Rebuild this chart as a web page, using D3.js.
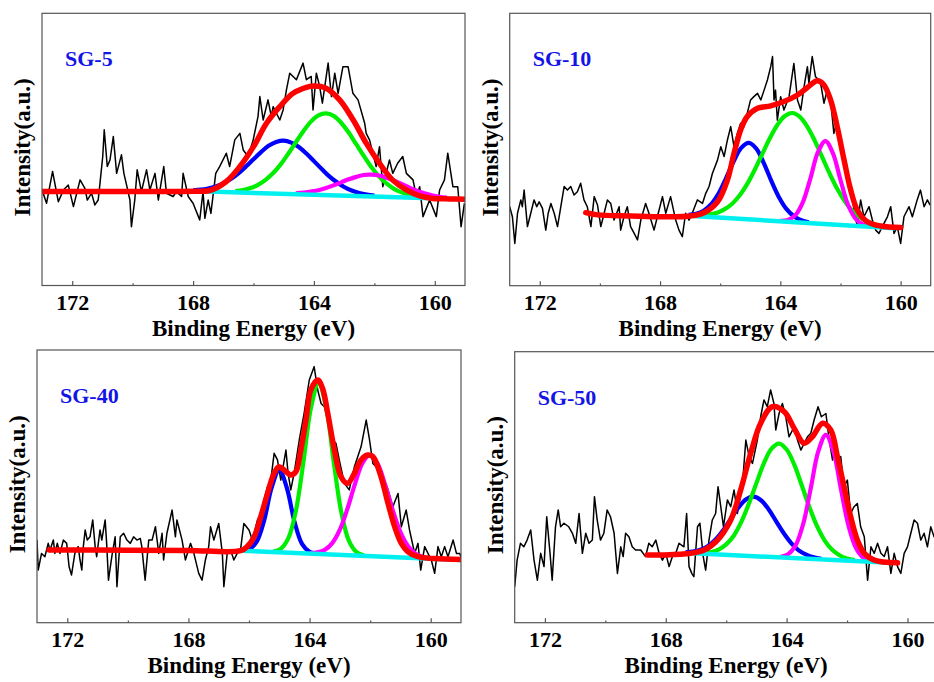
<!DOCTYPE html>
<html><head><meta charset="utf-8">
<script src="https://cdn.jsdelivr.net/npm/d3@7"></script>
<style>body{margin:0;background:#fff}svg{display:block}</style>
</head><body>
<svg id="c" width="934" height="682"></svg>
<script>
// ---------- DATA ----------
const sampleNames = ["SG-5", "SG-10", "SG-40", "SG-50"];
const xDomain = [173, 159];
const majorTicks = [172, 168, 164, 160];
const minorTicks = [170, 166, 162];
const fitStep = 0.25; // eV spacing of fitted-component samples

// SG-5
const sg5RawE = [172.98,172.85,172.65,172.46,172.29,172.13,171.96,171.74,171.58,171.50,171.36,171.25,171.14,171.08,170.99,170.94,170.84,170.75,170.64,170.53,170.37,170.29,170.20,170.09,170.04,169.93,169.85,169.71,169.54,169.43,169.26,169.15,168.97,168.88,168.66,168.55,168.38,168.33,168.16,168.00,167.78,167.67,167.61,167.50,167.41,167.25,167.12,166.90,166.79,166.62,166.45,166.34,166.18,166.01,165.85,165.79,165.68,165.52,165.41,165.35,165.13,165.02,164.91,164.80,164.58,164.36,164.25,164.09,164.03,163.92,163.81,163.72,163.53,163.42,163.31,163.20,163.04,162.87,162.71,162.54,162.32,162.27,162.16,161.94,161.83,161.72,161.50,161.39,161.23,161.06,160.94,160.72,160.61,160.50,160.39,160.17,159.95,159.84,159.68,159.57,159.40,159.24,159.13,159.02];
const sg5RawI = [34.5,30.2,41.9,30.8,35.1,36.9,29.0,38.8,35.7,31.4,33.9,29.6,31.4,37.6,47.4,57.2,43.7,46.1,54.7,41.2,48.0,41.2,36.9,31.4,21.6,31.4,42.5,34.5,42.5,35.1,41.2,31.4,43.7,33.9,32.7,34.5,32.7,41.2,32.7,30.2,24.1,34.5,24.7,31.4,26.5,41.2,43.7,48.6,43.7,53.5,55.9,49.8,47.4,53.5,62.1,69.4,60.8,68.2,62.1,65.7,60.8,64.5,71.9,78.0,75.6,81.7,75.6,76.8,64.5,78.0,73.1,67.0,81.7,69.4,78.0,70.6,80.4,80.4,70.6,68.2,59.6,55.9,53.5,43.7,51.0,36.3,46.1,41.2,44.9,47.4,41.2,38.8,32.7,36.3,25.3,31.4,25.3,35.1,38.8,48.6,36.3,36.3,21.6,30.2];
const sg5BgE = [167.5, 159.0], sg5BgI = [34.5, 31.7];
const sg5BlueE0 = 168.0, sg5Blue = [35.0,35.2,35.65,36.4,37.5,39.1,41.2,43.7,46.4,49.0,51.3,52.7,53.2,52.5,50.9,48.5,45.7,42.9,40.2,38.0,36.2,34.9,34.0,33.4,33.0];
const sg5GreenE0 = 166.6, sg5Green = [34.7,35.1,35.8,37.0,38.8,41.3,44.5,48.4,52.6,56.7,60.2,62.5,63.2,62.3,59.8,56.2,51.9,47.6,43.5,40.1,37.5,35.5,34.2,33.3,32.7];
const sg5MagE0 = 164.6, sg5Mag = [33.9,34.1,34.5,35.0,35.8,36.8,37.9,39.0,39.9,40.6,40.7,40.4,39.6,38.5,37.3,36.0,34.8,33.9,33.1,32.6,32.3];
const sg5EnvE = [173,170,168,167.45,166.9,166.45,166.0,165.57,165.13,164.69,164.25,164.0,163.6,163.15,162.7,162.27,161.83,161.4,160.94,160.5,160.06,159.5,159.0];
const sg5EnvI = [34.5,34.5,34.6,34.9,38.2,43.7,51.0,59.6,65.7,70.6,72.8,73.3,72.5,68.2,60.8,52.3,44.9,38.8,35.1,32.9,32.0,31.8,31.7];

// SG-10
const sg10RawE = [173.0,172.91,172.83,172.74,172.63,172.58,172.52,172.41,172.30,172.19,172.10,172.02,171.91,171.80,171.72,171.63,171.52,171.41,171.30,171.19,171.08,170.97,170.86,170.75,170.64,170.53,170.42,170.30,170.19,170.08,169.97,169.86,169.75,169.64,169.53,169.36,169.31,169.20,169.09,168.98,168.86,168.75,168.64,168.48,168.37,168.20,168.09,167.92,167.81,167.65,167.48,167.37,167.26,167.15,167.04,166.93,166.76,166.59,166.48,166.37,166.26,166.09,165.98,165.87,165.76,165.65,165.54,165.43,165.32,165.21,165.10,164.99,164.88,164.76,164.65,164.54,164.43,164.32,164.26,164.21,164.16,164.10,163.99,163.88,163.71,163.55,163.43,163.32,163.21,163.10,163.05,162.94,162.83,162.71,162.64,162.55,162.44,162.33,162.22,162.11,161.99,161.83,161.66,161.55,161.44,161.33,161.22,161.05,160.94,160.83,160.72,160.61,160.44,160.33,160.22,160.11,160.0,159.89,159.72,159.61,159.45,159.34,159.22,159.11,159.02];
const sg10RawI = [29.0,25.3,15.5,26.6,31.5,29.0,35.1,21.7,26.6,31.5,29.0,30.8,28.4,20.4,26.6,30.2,26.6,21.7,29.0,36.4,35.1,36.4,33.3,34.5,37.6,31.5,29.0,21.7,32.7,29.6,21.7,26.6,31.5,30.2,24.1,29.0,20.4,25.3,29.0,21.7,19.2,16.8,24.1,30.2,26.6,20.4,25.3,32.7,26.6,32.7,24.1,20.4,18.0,26.6,24.1,26.6,31.5,30.2,33.9,36.4,41.2,46.1,51.0,47.4,53.5,58.4,51.0,55.9,59.6,58.4,63.3,68.2,69.4,70.6,68.2,71.8,75.5,80.4,84.1,68.2,71.8,60.8,69.4,64.5,69.4,81.6,68.2,64.5,73.1,80.4,74.3,84.1,76.7,75.5,73.1,67.0,71.8,68.2,55.9,60.8,49.8,43.7,36.4,27.8,21.7,31.5,25.3,29.0,24.1,20.4,19.2,21.7,25.3,29.0,19.2,21.7,15.5,25.3,29.0,25.3,31.5,35.1,29.0,31.5,29.6];
const sg10BgE = [166.9, 160.2], sg10BgI = [25.6, 21.1];
const sg10BlueE0 = 167.05, sg10Blue = [26.0,26.4,27.5,29.9,33.9,39.6,45.7,50.6,52.4,50.3,45.0,38.5,32.6,28.2,25.5,24.0,23.3];
const sg10GreenE0 = 166.6, sg10Green = [25.9,26.2,26.8,28.1,30.1,33.2,37.4,42.6,48.4,54.1,59.0,62.3,63.4,62.0,58.3,53.1,47.0,40.9,35.4,30.9,27.4,25.1,23.5,22.5,21.8];
const sg10MagE0 = 164.0, sg10Mag = [23.8,24.1,25.9,30.7,39.4,49.0,53.1,48.6,38.8,29.7,24.6,22.4,21.8];
const sg10EnvE = [170.47,170.08,168.98,167.87,166.98,166.54,166.09,165.76,165.54,165.32,165.10,164.76,164.32,163.88,163.43,163.10,162.77,162.55,162.33,162.11,161.88,161.66,161.44,161.11,160.66,160.0];
const sg10EnvI = [26.8,26.0,25.6,25.3,25.6,26.8,30.8,38.8,48.6,57.2,62.1,65.1,66.0,67.6,70.0,72.8,75.2,73.7,68.2,58.4,46.1,35.1,27.8,23.5,21.9,21.4];

// SG-40
const sg40RawE = [173.0,172.96,172.85,172.74,172.63,172.57,172.46,172.41,172.33,172.24,172.13,172.02,171.94,171.86,171.75,171.64,171.58,171.52,171.47,171.41,171.34,171.25,171.16,171.08,171.03,170.92,170.86,170.75,170.70,170.64,170.53,170.42,170.36,170.25,170.14,170.03,169.92,169.81,169.70,169.59,169.54,169.43,169.31,169.20,169.09,168.98,168.87,168.82,168.71,168.54,168.43,168.38,168.21,168.10,167.93,167.82,167.66,167.55,167.44,167.33,167.27,167.16,167.00,166.88,166.83,166.72,166.61,166.50,166.39,166.28,166.17,166.00,165.89,165.72,165.61,165.50,165.39,165.28,165.17,165.06,164.95,164.78,164.71,164.62,164.51,164.34,164.18,164.01,163.85,163.73,163.62,163.51,163.40,163.24,163.13,163.02,162.85,162.69,162.52,162.30,162.13,162.02,161.91,161.80,161.64,161.41,161.25,161.08,160.97,160.81,160.70,160.53,160.42,160.33,160.20,159.98,159.87,159.76,159.65,159.54,159.43,159.26,159.15,159.04,158.97];
const sg40RawI = [30.3,19.3,25.4,24.2,29.1,26.7,30.3,25.4,29.1,25.4,30.3,29.1,20.5,17.5,25.4,27.9,23.0,19.3,27.9,34.0,30.3,31.5,37.7,27.9,24.2,34.0,30.3,37.7,29.1,15.6,24.2,31.5,13.2,31.5,32.8,30.3,29.1,31.5,30.3,30.9,27.9,15.6,30.3,30.3,35.2,25.4,32.8,23.0,32.8,41.3,31.5,37.7,30.3,23.0,29.1,25.4,18.1,15.6,23.0,27.9,35.2,30.3,36.4,25.4,13.2,25.4,26.7,23.0,25.4,26.7,36.4,34.0,30.3,37.7,40.1,45.0,49.9,52.3,62.1,59.7,52.3,63.3,54.8,48.7,54.8,67.0,76.8,89.0,93.9,85.3,80.4,79.2,74.3,67.0,65.8,59.7,51.1,48.7,57.2,64.5,74.3,67.0,58.4,57.2,54.8,48.7,42.5,47.4,35.2,41.3,34.0,25.4,29.1,19.3,27.9,23.0,18.1,27.9,24.2,27.9,24.2,30.3,25.4,25.4,23.0];
const sg40BgE = [166.28, 158.98], sg40BgI = [26.4, 23.0];
const sg40BlueE0 = 166.25, sg40Blue = [26.5,26.9,29.6,37.5,49.6,56.0,49.4,37.1,28.9,26.0,25.3];
const sg40GreenE0 = 165.2, sg40Green = [26.1,27.1,31.0,41.1,59.2,79.0,87.8,78.7,58.7,40.4,30.0,25.9,24.7];
const sg40MagE0 = 164.0, sg40Mag = [25.5,25.8,26.7,29.2,34.1,41.8,50.9,58.6,61.5,58.3,50.4,41.1,33.2,28.1,25.3,24.1,23.6];
const sg40EnvE = [172.6,170,168,166.28,166.06,165.83,165.61,165.39,165.17,165.01,164.84,164.62,164.45,164.29,164.12,163.96,163.73,163.57,163.4,163.18,162.96,162.74,162.52,162.3,162.08,161.91,161.64,161.41,161.19,160.97,160.75,160.42,159.87,158.98];
const sg40EnvI = [26.7,26.6,26.5,26.4,27.9,31.5,38.9,47.4,54.8,57.2,56.0,54.2,55.4,63.3,74.3,85.3,89.0,85.9,76.8,63.3,53.5,51.1,54.8,59.7,61.5,60.9,53.5,43.8,35.2,29.1,26.0,24.2,23.5,23.2];

// SG-50
const sg50RawE = [173.0,172.92,172.81,172.70,172.59,172.47,172.36,172.25,172.14,172.03,171.94,171.83,171.76,171.65,171.56,171.48,171.37,171.21,171.09,170.98,170.87,170.76,170.65,170.54,170.43,170.36,170.27,170.16,170.05,169.94,169.83,169.71,169.60,169.49,169.41,169.33,169.22,169.11,169.00,168.83,168.67,168.56,168.45,168.33,168.22,168.11,168.00,167.89,167.78,167.67,167.56,167.40,167.31,167.23,167.14,167.07,166.95,166.87,166.76,166.68,166.57,166.46,166.35,166.27,166.18,166.09,165.96,165.85,165.74,165.63,165.46,165.35,165.24,165.13,164.97,164.86,164.75,164.64,164.53,164.42,164.36,164.25,164.14,164.03,163.92,163.75,163.64,163.53,163.42,163.31,163.20,163.09,162.96,162.85,162.70,162.59,162.48,162.41,162.32,162.21,162.10,161.99,161.88,161.77,161.66,161.55,161.43,161.32,161.21,161.10,160.99,160.88,160.77,160.66,160.55,160.44,160.33,160.22,160.11,160.0,159.89,159.78,159.67,159.56,159.45,159.34,159.23,159.12,159.0];
const sg50RawI = [13.3,23.1,29.3,28.0,30.5,34.2,23.1,15.7,25.6,20.7,39.1,25.6,15.7,35.4,41.6,35.4,36.7,35.4,33.0,29.3,40.3,25.6,33.0,29.3,30.5,46.5,37.9,30.5,33.0,41.6,39.1,33.0,18.2,28.0,24.4,33.0,31.7,28.0,26.8,26.8,24.4,29.3,28.0,30.5,25.6,23.1,25.6,20.7,24.4,25.6,29.3,28.0,40.3,20.7,18.2,17.0,35.4,36.7,24.4,19.4,30.5,37.9,40.3,50.2,42.8,35.4,45.3,42.8,49.0,40.3,51.4,67.4,61.3,58.8,67.4,76.0,82.2,79.7,85.9,80.9,71.1,77.2,80.9,76.0,68.6,72.3,67.4,63.7,66.2,68.6,69.9,74.8,79.7,76.0,77.2,67.4,60.0,67.4,56.3,61.3,50.2,52.6,40.3,42.8,44.0,35.4,31.7,15.7,28.0,25.6,29.3,25.6,24.4,28.0,18.2,25.6,20.7,18.2,25.6,28.0,33.0,37.9,36.7,30.5,33.0,28.0,35.4,31.7,30.5];
const sg50BgE = [167.07, 160.55], sg50BgI = [25.6, 22.1];
const sg50BlueE0 = 167.35, sg50Blue = [26.0,26.2,26.9,28.3,30.7,34.1,38.3,42.4,45.5,46.5,45.2,41.9,37.5,33.1,29.4,26.7,25.1,24.1,23.6];
const sg50GreenE0 = 166.75, sg50Green = [25.8,26.1,27.0,28.9,32.1,37.2,43.9,51.5,58.9,64.2,66.1,63.9,58.4,50.7,42.8,35.8,30.5,27.0,24.9,23.7,23.1];
const sg50MagE0 = 164.2, sg50Mag = [24.3,25.3,28.6,36.5,49.7,63.3,69.3,63.1,49.1,35.7,27.5,23.9,22.7];
const sg50EnvE = [168.61,168.06,167.18,166.73,166.29,165.85,165.52,165.19,164.86,164.47,164.08,163.75,163.42,163.15,162.81,162.54,162.32,162.10,161.88,161.66,161.43,161.10,160.33];
const sg50EnvI = [25.0,25.0,25.6,26.8,30.5,37.9,49.0,62.5,73.6,79.7,77.9,71.7,66.2,68.6,73.6,71.1,61.3,50.2,39.1,30.5,25.6,23.1,22.1];

// ---------- LAYOUT (pixel frames of the four panels) ----------
const frames = [
  {left: 42,    right: 465,   top: 13.3,  bottom: 285.5},
  {left: 509.7, right: 930.7, top: 13.3,  bottom: 285.7},
  {left: 37,    right: 461,   top: 350,   bottom: 622.7},
  {left: 514.7, right: 937.7, top: 351.7, bottom: 622.7}
];

const pairs = (E, I) => E.map((e, i) => [e, I[i]]);
const grid = (e0, vals) => vals.map((v, i) => [e0 - i * fitStep, v]);

const panelData = [
  {raw: pairs(sg5RawE, sg5RawI), bg: pairs(sg5BgE, sg5BgI), blue: grid(sg5BlueE0, sg5Blue), green: grid(sg5GreenE0, sg5Green), mag: grid(sg5MagE0, sg5Mag), env: pairs(sg5EnvE, sg5EnvI)},
  {raw: pairs(sg10RawE, sg10RawI), bg: pairs(sg10BgE, sg10BgI), blue: grid(sg10BlueE0, sg10Blue), green: grid(sg10GreenE0, sg10Green), mag: grid(sg10MagE0, sg10Mag), env: pairs(sg10EnvE, sg10EnvI)},
  {raw: pairs(sg40RawE, sg40RawI), bg: pairs(sg40BgE, sg40BgI), blue: grid(sg40BlueE0, sg40Blue), green: grid(sg40GreenE0, sg40Green), mag: grid(sg40MagE0, sg40Mag), env: pairs(sg40EnvE, sg40EnvI)},
  {raw: pairs(sg50RawE, sg50RawI), bg: pairs(sg50BgE, sg50BgI), blue: grid(sg50BlueE0, sg50Blue), green: grid(sg50GreenE0, sg50Green), mag: grid(sg50MagE0, sg50Mag), env: pairs(sg50EnvE, sg50EnvI)}
];

const FONT = "'Liberation Serif','Times New Roman',Times,serif";
const frameColor = "#555";
const svg = d3.select("#c");
const defs = svg.append("defs");

panelData.forEach((pd, i) => {
  const f = frames[i];
  const x = d3.scaleLinear().domain(xDomain).range([f.left, f.right]);
  const y = d3.scaleLinear().domain([0, 100]).range([f.bottom, f.top]);

  defs.append("clipPath").attr("id", "clip" + i)
    .append("rect").attr("x", f.left).attr("y", f.top)
    .attr("width", f.right - f.left).attr("height", f.bottom - f.top);

  const g = svg.append("g").attr("clip-path", `url(#clip${i})`);
  const rawLine = d3.line().x(d => x(d[0])).y(d => y(d[1]));
  const fitLine = d3.line().x(d => x(d[0])).y(d => y(d[1])).curve(d3.curveCatmullRom.alpha(0.5));

  g.append("path").datum(pd.raw).attr("d", rawLine)
    .attr("fill", "none").attr("stroke", "#000").attr("stroke-width", 1.5).attr("stroke-linejoin", "round");
  [["blue", "#0000ff"], ["green", "#00ee00"], ["mag", "#ff00ff"]].forEach(([k, c]) => {
    g.append("path").datum(pd[k]).attr("d", fitLine)
      .attr("fill", "none").attr("stroke", c).attr("stroke-width", 4.2).attr("stroke-linecap", "butt");
  });
  g.append("path").datum(pd.bg).attr("d", rawLine)
    .attr("fill", "none").attr("stroke", "#00f0f0").attr("stroke-width", 4.5).attr("stroke-linecap", "round");
  g.append("path").datum(pd.env).attr("d", fitLine)
    .attr("fill", "none").attr("stroke", "#ff0000").attr("stroke-width", 5.5)
    .attr("stroke-linecap", "round").attr("stroke-linejoin", "round");

  // frame
  svg.append("rect").attr("x", f.left).attr("y", f.top)
    .attr("width", f.right - f.left).attr("height", f.bottom - f.top)
    .attr("fill", "none").attr("stroke", frameColor).attr("stroke-width", 1.2);

  // bottom axis (ticks pointing inward)
  const ax = svg.append("g").attr("transform", `translate(0,${f.bottom})`)
    .call(d3.axisBottom(x).tickValues(majorTicks).tickSizeInner(-4.5).tickSizeOuter(0).tickFormat(d3.format("d")));
  ax.select(".domain").remove();
  ax.selectAll("line").attr("stroke", frameColor).attr("stroke-width", 1.2);
  ax.selectAll("text").attr("y", 24.5).attr("dy", null)
    .attr("font-family", FONT).attr("font-weight", "bold").attr("font-size", 22).attr("fill", "#000");
  const axm = svg.append("g").attr("transform", `translate(0,${f.bottom})`)
    .call(d3.axisBottom(x).tickValues(minorTicks).tickSizeInner(-2.2).tickSizeOuter(0).tickFormat(""));
  axm.select(".domain").remove();
  axm.selectAll("line").attr("stroke", frameColor).attr("stroke-width", 1.2);

  // axis titles
  svg.append("text").attr("x", (f.left + f.right) / 2).attr("y", f.bottom + 50.5)
    .attr("text-anchor", "middle").attr("font-family", FONT).attr("font-weight", "bold")
    .attr("font-size", 23).attr("fill", "#000").text("Binding Energy (eV)");
  const cy = (f.top + f.bottom) / 2 - 2;
  svg.append("text").attr("transform", `translate(${f.left - 12},${cy}) rotate(-90)`)
    .attr("text-anchor", "middle").attr("font-family", FONT).attr("font-weight", "bold")
    .attr("font-size", 23).attr("fill", "#000").text("Intensity(a.u.)");

  // sample label
  svg.append("text").attr("x", f.left + 23).attr("y", f.top + 53)
    .attr("font-family", FONT).attr("font-weight", "bold").attr("font-size", 22)
    .attr("fill", "#1414e6").text(sampleNames[i]);
});
</script>
</body></html>
